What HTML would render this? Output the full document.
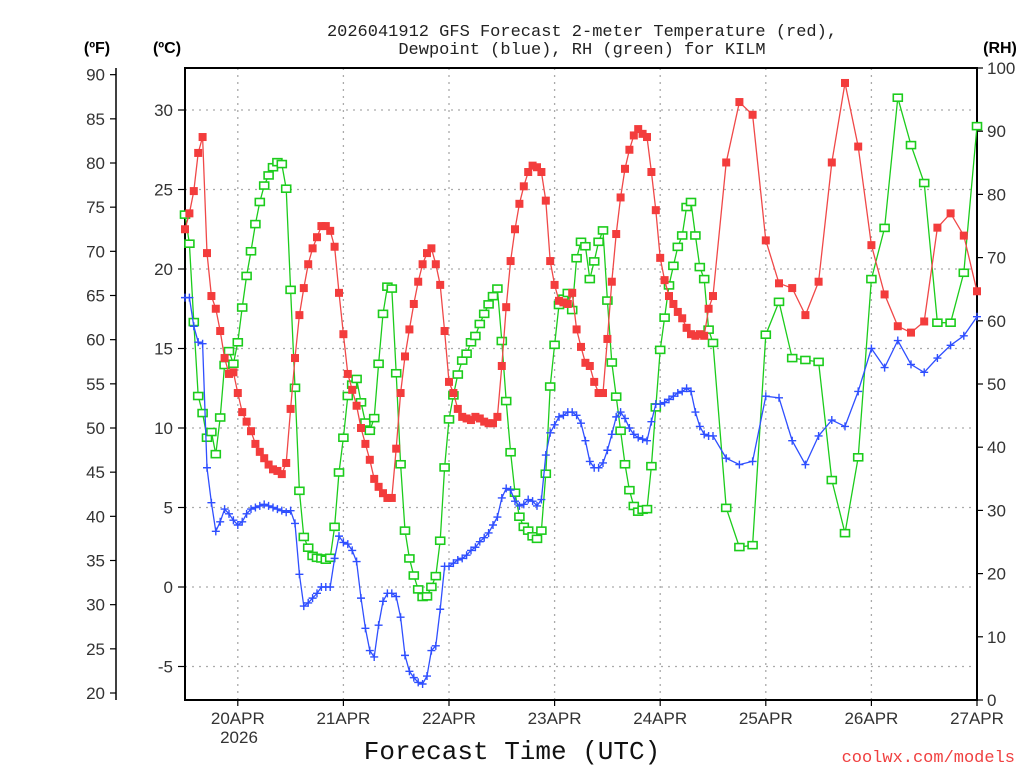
<!DOCTYPE html>
<html><head><meta charset="utf-8">
<style>
body{margin:0;background:#fff;width:1024px;height:768px;overflow:hidden}
svg text{font-family:"Liberation Sans","DejaVu Sans",sans-serif}
</style></head>
<body>
<svg id="chart" width="1024" height="768" viewBox="0 0 1024 768" xmlns="http://www.w3.org/2000/svg">
<g id="grid"></g>
<g id="axes"></g>
<g id="series"></g>
<text x="582" y="36" text-anchor="middle" font-size="17" style="font-family:'Liberation Mono',monospace" fill="#222">2026041912 GFS Forecast 2-meter Temperature (red),</text>
<text x="582" y="54" text-anchor="middle" font-size="17" style="font-family:'Liberation Mono',monospace" fill="#222">Dewpoint (blue), RH (green) for KILM</text>
<text x="97" y="53" text-anchor="middle" font-size="16" font-weight="bold">(ºF)</text>
<text x="167" y="53" text-anchor="middle" font-size="16" font-weight="bold">(ºC)</text>
<text x="1000" y="53" text-anchor="middle" font-size="16" font-weight="bold">(RH)</text>
<text x="512" y="759" text-anchor="middle" font-size="26" style="font-family:'Liberation Mono',monospace" fill="#111">Forecast Time (UTC)</text>
<text x="239" y="743" text-anchor="middle" font-size="17" fill="#333">2026</text>
<text x="1015" y="762" text-anchor="end" font-size="17" style="font-family:'Liberation Mono',monospace" fill="#f04040">coolwx.com/models</text>
</svg>
<script>
const hours = [];
for (let h = 0; h <= 120; h++) hours.push(h);
for (let h = 123; h <= 180; h += 3) hours.push(h);
const tempC = [22.5,23.5,24.9,27.3,28.3,21.0,18.3,17.5,16.1,14.4,13.4,13.5,12.2,11.0,10.4,9.8,9.0,8.5,8.1,7.7,7.4,7.3,7.1,7.8,11.2,14.4,17.1,18.8,20.3,21.3,22.0,22.7,22.7,22.4,21.4,18.5,15.9,13.4,12.4,11.4,10.0,9.0,8.0,6.8,
6.3,5.9,5.6,5.6,8.7,12.2,14.5,16.2,17.8,19.2,20.3,21.0,21.3,20.3,19.0,16.1,12.9,12.2,11.2,10.7,10.6,10.5,10.7,10.6,10.4,10.3,10.3,10.7,13.9,17.6,20.5,22.5,24.1,25.2,26.1,26.5,26.4,26.1,24.3,20.5,19.0,18.0,
17.9,17.8,18.5,16.2,15.1,14.1,13.9,12.9,12.2,12.2,15.6,19.2,22.2,24.5,26.3,27.5,28.4,28.8,28.5,28.3,26.1,23.7,20.7,19.3,18.3,17.8,17.3,16.9,16.3,15.9,15.8,15.9,15.8,17.5,18.3,
26.7,30.5,29.7,21.8,19.1,18.8,17.1,19.2,26.7,31.7,27.7,21.5,18.4,16.4,16.0,16.7,22.6,23.5,22.1,18.6];
const dewC = [18.2,18.2,16.4,15.4,15.3,7.5,5.3,3.5,4.1,4.9,4.6,4.2,3.9,4.1,4.6,4.9,5.0,5.1,5.2,5.1,5.0,4.9,4.8,4.7,4.8,4.0,0.8,-1.2,-1.0,-0.7,-0.4,0.0,0.0,0.0,1.8,3.2,2.8,2.7,2.3,1.6,-0.7,-2.6,-4.0,-4.4,
-2.4,-0.9,-0.4,-0.4,-0.6,-1.9,-4.3,-5.3,-5.7,-6.0,-6.1,-5.6,-4.0,-3.7,-1.4,1.3,1.3,1.5,1.7,1.8,2.0,2.3,2.5,2.85,3.1,3.4,3.9,4.4,5.6,6.2,6.1,5.4,5.1,5.2,5.5,5.4,5.1,5.5,8.3,9.7,10.2,10.7,
10.8,11.0,11.0,10.8,10.3,9.2,7.9,7.5,7.5,7.8,8.6,9.6,10.7,11.0,10.6,10.0,9.6,9.4,9.3,9.2,10.4,11.5,11.5,11.6,11.8,12.0,12.2,12.3,12.5,12.3,11.0,10.1,9.6,9.5,9.5,
8.1,7.7,7.9,12.0,11.9,9.2,7.7,9.5,10.5,10.1,12.3,15.0,13.8,15.5,14.0,13.5,14.4,15.2,15.8,17.0];
const rh = [76.8,72.2,59.8,48.1,45.4,41.5,42.4,38.9,44.7,53.0,55.2,53.2,56.6,62.1,67.1,71.0,75.3,78.8,81.4,83.0,84.3,85.1,84.8,80.9,64.9,49.4,33.1,25.8,24.1,22.8,22.5,22.4,22.2,22.5,27.4,36.0,41.5,48.1,49.9,50.8,47.1,43.9,42.6,44.6,
53.2,61.1,65.4,65.1,51.7,37.3,26.8,22.4,19.7,17.5,16.3,16.4,17.9,19.6,25.2,36.8,44.4,48.2,51.5,53.7,54.8,56.6,57.6,59.5,61.1,62.6,63.9,65.1,56.8,47.3,39.2,32.8,29.0,27.4,26.8,25.9,25.5,26.8,35.8,49.6,56.2,62.5,
63.5,64.4,61.7,69.9,72.5,71.8,66.6,69.4,72.5,74.3,63.2,53.4,48.0,42.6,37.3,33.2,30.7,29.8,30.1,30.2,37.0,46.3,55.4,60.5,65.6,68.7,71.7,73.5,78.0,78.8,73.5,68.5,66.6,58.6,56.5,
30.4,24.2,24.5,57.8,63.0,54.1,53.8,53.5,34.8,26.4,38.4,66.6,74.7,95.3,87.8,81.8,59.7,59.7,67.6,90.8];
const dayLabels = ["20APR","21APR","22APR","23APR","24APR","25APR","26APR","27APR"];
const cTicks = [-5,0,5,10,15,20,25,30];
const fTicks = [20,25,30,35,40,45,50,55,60,65,70,75,80,85,90];
const rhTicks = [0,10,20,30,40,50,60,70,80,90,100];

const L=185,R=977,T=68,B=700;
const X = h => L + (h/180)*(R-L);
const YC = c => 587 - c*15.9;
const YF = f => YC((f-32)*5/9);
const YR = r => B - r*(B-T)/100;
const NS="http://www.w3.org/2000/svg";
function mk(tag, attrs, parent){const e=document.createElementNS(NS,tag);for(const k in attrs)e.setAttribute(k,attrs[k]);parent.appendChild(e);return e;}
const grid=document.getElementById('grid'), axes=document.getElementById('axes'), ser=document.getElementById('series');

cTicks.forEach(c=>{
  const y=YC(c);
  const g=mk('line',{x1:L,x2:R,y1:y,y2:y,stroke:'#aaa','stroke-width':1.3,'stroke-dasharray':'2,5'},grid);
  
  
  const t=mk('line',{x1:L-7,x2:L,y1:y,y2:y,stroke:'#000','stroke-width':1.2},axes);
  
  
  const tx=mk('text',{x:L-12,y:y+6,'text-anchor':'end','font-size':17,fill:'#333'},axes);
  tx.textContent=c;
  
  
});
dayLabels.forEach((d,i)=>{
  const x=X(12+24*i);
  if(i<7){const g=mk('line',{x1:x,x2:x,y1:T,y2:B,stroke:'#aaa','stroke-width':1.3,'stroke-dasharray':'2,5'},grid);
  
  }
  const t=mk('line',{x1:x,x2:x,y1:B,y2:B+6,stroke:'#000','stroke-width':1.2},axes);
  
  
  const tx=mk('text',{x:x,y:724,'text-anchor':'middle','font-size':17,fill:'#333'},axes);
  tx.textContent=d;
  
  
});
// F axis
const fl=mk('line',{x1:116,x2:116,y1:T,y2:B,stroke:'#000','stroke-width':1.5},axes);


fTicks.forEach(f=>{
  const y=YF(f);
  const t=mk('line',{x1:110,x2:116,y1:y,y2:y,stroke:'#000','stroke-width':1.2},axes);
  
  
  const tx=mk('text',{x:105,y:y+6,'text-anchor':'end','font-size':17,fill:'#333'},axes);
  tx.textContent=f;
  
  
});
rhTicks.forEach(r=>{
  const y=YR(r);
  const t=mk('line',{x1:R,x2:R+6,y1:y,y2:y,stroke:'#000','stroke-width':1.2},axes);
  
  
  const tx=mk('text',{x:987,y:y+6,'font-size':17,fill:'#333'},axes);
  tx.textContent=r;
  
  
});
const fr=mk('rect',{x:L,y:T,width:R-L,height:B-T,fill:'none',stroke:'#000','stroke-width':2},axes);



function series(vals, yf, color, name, marker){
  const pts=vals.map((v,i)=>X(hours[i]).toFixed(1)+','+yf(v).toFixed(1)).join(' ');
  const pl=mk('polyline',{points:pts,fill:'none',stroke:color,'stroke-width':1.3},ser);
  
  
  vals.forEach((v,i)=>{
    const x=X(hours[i]), y=yf(v);
    let m;
    if(marker==='fill') m=mk('rect',{x:x-4,y:y-4,width:8,height:8,fill:'#f33c3c'},ser);
    else if(marker==='open') m=mk('rect',{x:x-4.5,y:y-3.5,width:9,height:7,fill:'#fff',stroke:'#1ccc1c','stroke-width':1.6},ser);
    else m=mk('path',{d:`M${x-4},${y}H${x+4}M${x},${y-4}V${y+4}`,stroke:'#2f4fff','stroke-width':1.4,fill:'none'},ser);
    
    
  });
}
series(rh, YR, '#1ccc1c', 'rh', 'open');
series(dewC, YC, '#2f4fff', 'dewpoint', 'plus');
series(tempC, YC, '#f04848', 'temperature', 'fill');
</script>
</body></html>
